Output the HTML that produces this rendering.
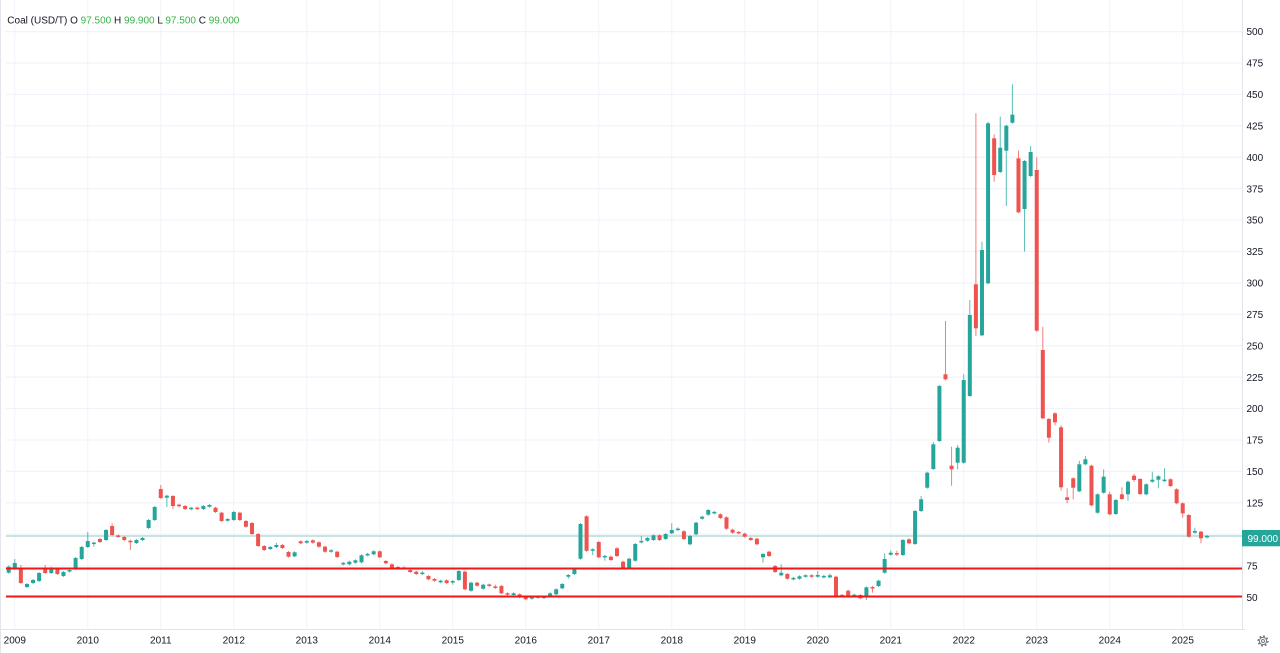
<!DOCTYPE html>
<html><head><meta charset="utf-8">
<style>
html,body{margin:0;padding:0;background:#fff;}
body{width:1280px;height:653px;overflow:hidden;position:relative;font-family:"Liberation Sans",Arial,sans-serif;}
svg{position:absolute;left:0;top:0;}
svg text{font-family:"Liberation Sans",Arial,sans-serif;font-size:10px;fill:#131722;}
</style></head>
<body>
<svg id="c" width="1280" height="653" viewBox="0 0 1280 653" xmlns="http://www.w3.org/2000/svg">
<g id="grid"></g>
<rect x="6" y="535" width="1236" height="2" fill="#c5e5e1"/>
<g id="candles"></g>
<rect x="6" y="567.5" width="1236" height="2" fill="#f21515"/>
<rect x="6" y="595.5" width="1236" height="2" fill="#f21515"/>
<line x1="0.5" y1="0" x2="0.5" y2="653" stroke="#e3e5ea" stroke-width="1"/>
<line x1="1242.5" y1="0" x2="1242.5" y2="630" stroke="#e0e3eb" stroke-width="1"/>
<line x1="0" y1="629.5" x2="1245" y2="629.5" stroke="#e0e3eb" stroke-width="1"/>
<g id="plabels">
<text x="1246.5" y="35">500</text>
<text x="1246.5" y="66.5">475</text>
<text x="1246.5" y="98">450</text>
<text x="1246.5" y="129.5">425</text>
<text x="1246.5" y="160.9">400</text>
<text x="1246.5" y="192.3">375</text>
<text x="1246.5" y="223.7">350</text>
<text x="1246.5" y="255.1">325</text>
<text x="1246.5" y="286.6">300</text>
<text x="1246.5" y="318">275</text>
<text x="1246.5" y="349.4">250</text>
<text x="1246.5" y="380.8">225</text>
<text x="1246.5" y="412.2">200</text>
<text x="1246.5" y="443.6">175</text>
<text x="1246.5" y="475.1">150</text>
<text x="1246.5" y="506.5">125</text>
<text x="1246.5" y="569.4">75</text>
<text x="1246.5" y="600.8">50</text>
</g>
<rect x="1242" y="530" width="38" height="16.3" fill="#26a69a"/>
<text x="1247.5" y="541.8" style="fill:#ffffff">99.000</text>
<g id="ylabels" text-anchor="middle">
<text x="14.8" y="643.5">2009</text>
<text x="87.8" y="643.5">2010</text>
<text x="160.8" y="643.5">2011</text>
<text x="233.8" y="643.5">2012</text>
<text x="306.8" y="643.5">2013</text>
<text x="379.8" y="643.5">2014</text>
<text x="452.8" y="643.5">2015</text>
<text x="525.8" y="643.5">2016</text>
<text x="598.8" y="643.5">2017</text>
<text x="671.8" y="643.5">2018</text>
<text x="744.8" y="643.5">2019</text>
<text x="817.8" y="643.5">2020</text>
<text x="890.8" y="643.5">2021</text>
<text x="963.8" y="643.5">2022</text>
<text x="1036.8" y="643.5">2023</text>
<text x="1109.8" y="643.5">2024</text>
<text x="1182.8" y="643.5">2025</text>
</g>
<text x="7.3" y="23.5"><tspan>Coal (USD/T) O </tspan><tspan style="fill:#39b54a">97.500</tspan><tspan> H </tspan><tspan style="fill:#39b54a">99.900</tspan><tspan> L </tspan><tspan style="fill:#39b54a">97.500</tspan><tspan> C </tspan><tspan style="fill:#39b54a">99.000</tspan></text>
<g transform="translate(1263,641)">
<circle r="4.6" fill="none" stroke="#787b86" stroke-width="2" stroke-dasharray="1.8 1.8"/>
<circle r="3.6" fill="none" stroke="#787b86" stroke-width="1"/>
<circle r="1.5" fill="none" stroke="#787b86" stroke-width="1"/>
</g>
</svg>
<script>
(function(){
var NS="http://www.w3.org/2000/svg";
var grid=document.getElementById("grid");
function el(n,a,p){var e=document.createElementNS(NS,n);for(var k in a)e.setAttribute(k,a[k]);p.appendChild(e);return e;}
// vertical year grid
for(var Y=2009;Y<=2025;Y++){
  var x=8.7+6.083*(1+12*(Y-2009));
  el("line",{x1:x,y1:0,x2:x,y2:629,stroke:"#f0f3fa","stroke-width":1},grid);
}
// horizontal grid
for(var p=50;p<=500;p+=25){
  var y=31.6+(500-p)*1.2565;
  el("line",{x1:6,y1:y,x2:1242,y2:y,stroke:"#f0f3fa","stroke-width":1.2},grid);
}
var D=[
[1,566.7,572.7,565.5],[1,563,568.7,559],[0,569,583,565],[1,584,587],[1,580,583],[1,573,581],[0,569,573,565],[1,569,573,566.7],[0,569,574],[1,572,576],[1,570,571.5],[1,558,569],[1,547,559],
[1,541,547,532],[1,542.7,544,null,546.7],[0,539,542],[1,530,540],[0,526,535,523.3],[0,535.7,536.7],[0,537,540],[0,541,542,null,550],[1,540,543],[1,538,540],[1,520,528],[1,507,520],
[0,489,498,485],[1,495.7,497.7,null,507],[0,496,506,null,509.3],[0,504.7,506.3],[0,506,509,null,510],[1,508,509],[0,507.7,509],[1,506,509],[1,505,506.7],[0,507.7,512],[0,512.7,521],[1,519,520.7],
[1,512,520,511],[0,512.7,520],[0,521,526.7],[0,523,534],[0,534,546],[0,546,550],[1,547,549],[1,545,547,542.7],[0,545,548],[0,552,556.7],[1,552.3,556.3],
[0,541.3,543.3],[1,541,542.7],[0,540.3,542.7],[0,542.3,546.7],[0,546.7,551.7],[1,550.3,551.7],[0,551.7,557],[1,563,564.3],[1,561.7,564.3],[1,560.3,562.7],[1,555.3,562.3],[1,554,555.3],[1,551.3,554.3],
[0,551.3,557.3],[0,561,563.3],[0,564.3,568.3],[0,567,568.7],[0,567.7,568.5],[0,570,572],[0,571.7,574],[1,572.7,574,571],[0,576,579.3],[0,579,580.7],[1,580.7,582.3],[0,580.3,583],
[1,581.3,582.3,null,584.7],[1,571,580],[0,571.7,589.3],[1,582.7,590.7],[0,582.7,585.7],[1,584.7,588.7],[0,584.7,585.7],[0,586.7,587.7,584.7],[0,586,593.3],[0,593.3,594.7],[1,593.3,595],[0,594.3,597.3],
[0,597,599.3],[1,597,598.7],[1,596.7,597.5],[1,596.7,598],[1,593.3,596.7],[1,589.3,594.3],[1,584,588.3],[1,575,576.7,null,578.7],[1,569,574],[1,524,558.7],[0,516.3,550.8],[1,549.3,550.7,null,555],
[0,542,557.3],[1,556,557.3,null,560.7],[0,556.7,560],[0,548.3,556],[0,561.7,568.3],[1,558.7,568.3],[1,544,560.7],[1,541,542.3,536],[1,538,540.7],[1,535.3,540],[0,535.3,540],[1,534,539],
[1,530,533.3,523.3],[1,528.7,530,527.3],[0,531.3,539],[1,536,544.3],[1,522.7,534.3],[1,516.7,518.7,515.7],[1,510,514.7],[1,512,513.3],[0,514.3,518],[0,517.3,528.7],[0,529.7,532.7],[0,532,533.3],
[0,533.7,536.7],[0,538,540],[0,538.7,544.3],[1,554,557.3,null,562.7],[0,551.7,556],[0,566,572],[1,572.7,575.3,564.3],[0,574,578.7],[1,578,579.3],[1,576.3,578.7],[1,575.3,576.7],[0,575.3,576.7],
[1,575,576.7,571],[1,576,577.3],[1,575.3,577.3,573.5],[0,576.7,596.7],[0,595,596.3],[0,590.7,596.7],[1,594.7,596.3],[0,595,598.3],[1,587.3,597.3,null,600],[0,587.3,588.3,null,592.7],[1,580.7,586],[1,559,572.7,553.5],
[1,552.7,554.7,550.5],[0,553.3,554.3,550.7,556],[1,540,555],[0,539.3,543.3],[1,511,544],[1,499.3,511,496],[1,472.7,487.7],[1,444.3,469,442],[1,386,441],[0,374.3,379.3,321],[0,465.7,469.3,446.7,485.7],[1,447.7,462.7,445,469.3],
[1,380,462.7,374.3],[1,315,396,300],[0,284.3,328.3,113.3,336],[1,250,335.3,241.7],[1,123.3,283.3,121.7],[0,138.3,175,134.3,181.7],[1,147.7,172,116.7],[1,125.7,150.7,null,206],[1,114.7,122.7,84.3],[0,158.3,212.3,150.7],[1,161,209,null,251.7],[1,152,176,146],
[0,170,330.7,157.3],[0,350,418.3,326.7],[0,419,437.7,null,442.7],[0,413.3,422.3,null,425.3],[0,427.3,487.3,425,490.7],[0,497.3,500,488.3,503.3],[0,478.3,487.7,null,499.3],[1,464.3,491.3,460.7],[1,459.3,464.3,456],[0,465.7,505.3],[1,494.3,512.7],[1,476.7,492.7,469.3],
[0,494.3,514.3,491.7],[1,500,514],[0,494.3,499,487.3],[1,481.7,494.3,null,500.7],[0,475.7,480,474,482],[0,479,494],[1,484.3,494.3],[1,479.7,481.7,471.7],[1,476.3,479.7,null,488.3],[1,479.7,481,468.3],[0,479.3,486],[0,489.3,503.3],
[0,503.3,513.3,null,517.7],[0,515,536.7],[1,531,532.7,527.7],[0,531.7,538.3,null,543.3],[1,536,537.3]
];
var g=document.getElementById("candles");
for(var i=0;i<D.length;i++){
  var d=D[i],cx=8.7+6.083*i,col=d[0]?"#26a69a":"#ef5350";
  var t=d[1],b=d[2];
  if(b-t<1.5){var m=(t+b)/2;t=m-0.75;b=m+0.75;}
  var h=(d[3]!=null&&d[3]!==undefined)?d[3]:t-1;
  var l=(d[4]!=null&&d[4]!==undefined)?d[4]:b+1;
  el("line",{x1:cx,y1:h,x2:cx,y2:l,stroke:col,"stroke-width":1,"stroke-opacity":0.75},g);
  el("rect",{x:cx-2,y:t,width:4,height:b-t,fill:col},g);
}
})();
</script>
</body></html>
